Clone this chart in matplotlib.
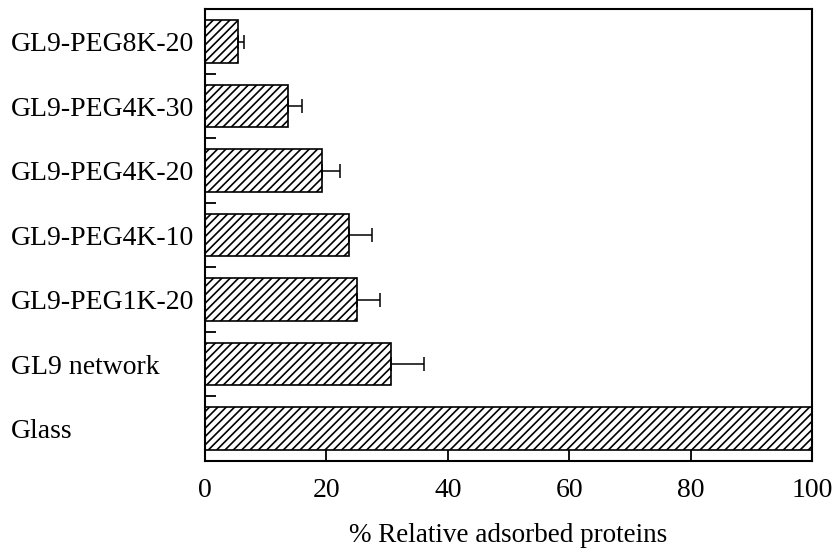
import matplotlib
matplotlib.use("Agg")
import matplotlib.pyplot as plt
import numpy as np
from matplotlib.ticker import FixedLocator

plt.rcParams['font.family'] = ['Liberation Serif', 'DejaVu Serif']
plt.rcParams['hatch.linewidth'] = 1.2

# data, top to bottom as in the figure
categories = ["GL9-PEG8K-20", "GL9-PEG4K-30", "GL9-PEG4K-20", "GL9-PEG4K-10",
              "GL9-PEG1K-20", "GL9 network", "Glass"]
values = [5.5, 13.6, 19.3, 23.7, 25.1, 30.7, 100.0]
errors = [1.0, 2.3, 3.0, 3.8, 3.7, 5.3, 0.0]

fig = plt.figure(figsize=(8.34, 5.54), dpi=100)
ax = fig.add_axes([0.2458, 0.1679, 0.9736 - 0.2458, 0.9832 - 0.1679])

y = np.arange(len(categories))
ax.barh(y, values, height=0.66, color="white", edgecolor="black",
        linewidth=1.2, hatch="////", zorder=2)

# one-sided (right) error bars, none for glass
has_err = [i for i, e in enumerate(errors) if e > 0]
ax.errorbar([values[i] for i in has_err], [y[i] for i in has_err],
            xerr=[[0] * len(has_err), [errors[i] for i in has_err]],
            fmt="none", ecolor="black", elinewidth=1.1, capsize=5,
            capthick=1.1, zorder=3)

ax.set_xlim(0, 100)
ax.set_ylim(len(categories) - 0.5, -0.5)
ax.set_xticks(range(0, 101, 20))
ax.tick_params(axis="x", direction="in", length=8, width=1.3,
               labelsize=20, pad=12)

ax.set_yticks(y)
ax.set_yticklabels(categories, ha="left")
ax.tick_params(axis="y", which="major", length=0, labelsize=20, pad=140)
ax.yaxis.set_minor_locator(FixedLocator(np.arange(0.5, len(categories) - 1, 1.0)))
ax.tick_params(axis="y", which="minor", direction="in", length=8, width=1.3)

for s in ax.spines.values():
    s.set_linewidth(1.5)

ax.set_xlabel("% Relative adsorbed proteins", fontsize=19.5)
ax.xaxis.set_label_coords(0.5, -0.137)

fig.savefig("out.png", dpi=100)
